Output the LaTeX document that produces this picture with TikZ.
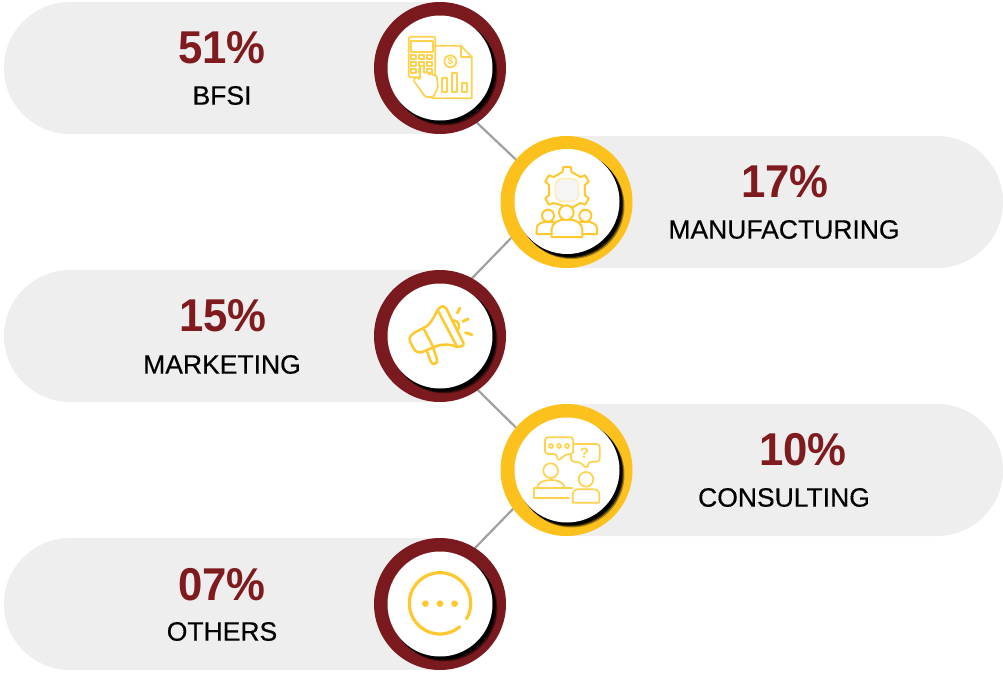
\documentclass[tikz,border=0pt]{standalone}
\usepackage{fontspec}
\setmainfont{Liberation Sans}
\newfontfamily\labfont[FakeBold=0.5]{Liberation Sans}
\definecolor{ringred}{HTML}{7B1A1E}
\definecolor{ringyel}{HTML}{FDC11E}
\definecolor{pillgray}{HTML}{EEEEEE}
\definecolor{pcttext}{HTML}{7F1A1F}
\definecolor{iconyel}{HTML}{FFD24D}
\definecolor{iconyelb}{HTML}{FFC82E}
\definecolor{linkgray}{HTML}{A0A0A0}
\tikzset{
  pill/.style={fill=pillgray,rounded corners=66pt},
  pct/.style={text=pcttext,font=\bfseries\fontsize{46}{46}\selectfont,inner sep=0pt,xscale=.95},
  lab/.style={text=black,font=\labfont\fontsize{26.5}{26.5}\selectfont,inner sep=0pt},
  link/.style={draw=linkgray,line width=2.2pt},
  ring/.style={circle,minimum size=132pt,inner sep=0pt,outer sep=0pt},
  hub/.style={circle,minimum size=105pt,inner sep=0pt,fill=white},
  ico/.style={draw=iconyel,line width=1.7pt,line join=round,line cap=round},
  icob/.style={draw=iconyelb,line width=2.8pt,line join=round,line cap=round},
}
\newcommand{\hubshadow}[2]{%
  \fill[black,opacity=.35] (#1+4.5,#2+4.5) circle (53);
  \fill[black,opacity=.6] (#1+3.5,#2+3.5) circle (53);
  \fill[black] (#1+2.5,#2+2.5) circle (53);
}
\begin{document}
\begin{tikzpicture}[x=1pt,y=-1pt]
\useasboundingbox (0,0) rectangle (1003,672);
% pills
\fill[pill] (4,2) rectangle (500,134);
\fill[pill] (505,136) rectangle (1003,268);
\fill[pill] (4,270) rectangle (500,402);
\fill[pill] (505,404) rectangle (1003,536);
\fill[pill] (4,538) rectangle (500,670);
% rings
\node[ring] (r1) at (440,68) {};
\node[ring] (r2) at (566.5,202) {};
\node[ring] (r3) at (440,336) {};
\node[ring] (r4) at (566.5,470) {};
\node[ring] (r5) at (440,604) {};
\draw[link] (r1.-56) -- (r2.140);
\draw[link] (r2.213) -- (r3.61);
\draw[link] (r3.-55) -- (r4.140);
\draw[link] (r4.216) -- (r5.58);
\fill[ringred] (r1) circle (66);
\fill[ringyel] (r2) circle (66);
\fill[ringred] (r3) circle (66);
\fill[ringyel] (r4) circle (66);
\fill[ringred] (r5) circle (66);
\hubshadow{440}{68}
\hubshadow{567}{201.5}
\hubshadow{440}{336}
\hubshadow{567}{470}
\hubshadow{440}{604}
\node[hub] (h1) at (440,68) {};
\node[hub] (h2) at (567,201.5) {};
\node[hub] (h3) at (440,336) {};
\node[hub] (h4) at (567,470) {};
\node[hub] (h5) at (440,604) {};
% texts
\node[pct] (p1) at (222,48) {51\%};
\node[lab] (l1) at (222,95.5) {BFSI};
\node[pct] (p2) at (785,182) {17\%};
\node[lab] (l2) at (784,229.5) {MANUFACTURING};
\node[pct] (p3) at (223,316) {15\%};
\node[lab] (l3) at (222,364.5) {MARKETING};
\node[pct] (p4) at (803,450) {10\%};
\node[lab] (l4) at (784,497.5) {CONSULTING};
\node[pct] (p5) at (222,585) {07\%};
\node[lab] (l5) at (222,631.5) {OTHERS};
% icon 1
\begin{scope}[shift={(370,0)},x=1/3*1pt,y=-1/3*1pt]
\draw[ico] (196,137) -- (272,137) -- (305,170) -- (305,295) -- (186,295);
\draw[ico] (272,137) -- (272,170) -- (305,170);
\draw[ico] (241,184) circle (18);
\node[text=iconyel,font=\bfseries\fontsize{10}{10}\selectfont,inner sep=0pt] at (241,184) {\$};
\draw[ico] (217,235) rectangle (232,277);
\draw[ico] (246,219) rectangle (262,277);
\draw[ico] (275,250) rectangle (291,277);
\draw[ico,fill=white,rounded corners=2pt] (116,110) rectangle (196,232);
\draw[ico] (124,122) rectangle (188,155);
\foreach \bx in {124,148,172} \foreach \by in {166,187,208}
  \draw[ico] (\bx,\by) rectangle (\bx+14,\by+12);
\draw[ico,fill=white,rounded corners=1.5pt] (130,240) -- (140,230) -- (150,240) -- (150,197) -- (162,197) -- (162,222) -- (172,212) -- (176,226) -- (186,218) -- (190,228) -- (200,226) -- (204,262) -- (190,291) -- (166,291) -- cycle;
\end{scope}
% icon 2
\begin{scope}[shift={(495,130)},x=1/3*1pt,y=-1/3*1pt]
\draw[icob,line width=2pt,shift={(216,180)}]
  (90-14:56)
  \foreach \a in {90,30,-30,-90,-150,-210} { -- (\a+14:56) -- (\a+9:70) -- (\a-9:70) -- (\a-14:56) } -- cycle;
\draw[draw=iconyel!40!white,fill=gray!8,line width=1.6pt,rounded corners=7pt] (181,146) rectangle (251,214);
\draw[icob,line width=2pt,fill=white] (125,312) -- (125,295) .. controls (125,282) and (140,275) .. (159,275) .. controls (178,275) and (193,282) .. (193,295) -- (193,312) -- cycle;
\draw[icob,line width=2pt,fill=white] (239,312) -- (239,295) .. controls (239,282) and (252,275) .. (271,275) .. controls (290,275) and (306,282) .. (306,295) -- (306,312) -- cycle;
\draw[icob,line width=2pt,fill=white] (159,257) circle (18);
\draw[icob,line width=2pt,fill=white] (271,257) circle (18);
\draw[icob,line width=2pt,fill=white] (170,321) -- (170,298) .. controls (170,280) and (190,268) .. (216,268) .. controls (242,268) and (262,280) .. (262,298) -- (262,321) -- cycle;
\draw[icob,line width=2pt,fill=white] (214,248) circle (22);
\end{scope}
% icon 3
\begin{scope}[shift={(370,268)},x=1/3*1pt,y=-1/3*1pt]
\draw[icob,line width=2.5pt,rounded corners=3pt] (203,126) .. controls (190,150) and (180,170) .. (160,180) -- (130,195) -- (116,212) -- (135,250) -- (150,255) -- (190,238) .. controls (215,228) and (240,228) .. (262,238) -- (284,232) -- (226,116) -- (212,114) -- (203,126);
\draw[icob,line width=2.5pt] (203,126) -- (262,238);
\draw[icob,line width=2.5pt] (160,180) -- (190,238);
\draw[icob,line width=2.5pt,rounded corners=3pt] (170,248) -- (186,290) -- (204,284) -- (190,240);
\draw[icob,line width=2.5pt] (252,157) .. controls (268,160) and (272,175) .. (262,188);
\draw[icob] (262,135) -- (270,120);
\draw[icob] (278,160) -- (295,153);
\draw[icob] (286,194) -- (306,200);
\end{scope}
% icon 4
\begin{scope}[shift={(495,400)},x=1/3*1pt,y=-1/3*1pt]
\draw[ico,rounded corners=3pt] (238,132) -- (314,132) -- (314,185) -- (281,185) -- (277,206) -- (252,185) -- (228,185) -- (228,165);
\draw[ico,fill=white,rounded corners=3pt] (150,112) -- (235,112) -- (235,162) -- (214,162) -- (188,184) -- (186,162) -- (150,162) -- cycle;
\foreach \dx in {168,192,216} \draw[ico] (\dx,138) circle (6);
\node[text=iconyel,font=\bfseries\fontsize{15}{15}\selectfont,inner sep=0pt] at (268,160) {?};
\draw[ico] (167,212) circle (22);
\draw[ico] (126,263) .. controls (128,248) and (145,240) .. (167,240) .. controls (190,240) and (207,248) .. (209,263);
\draw[ico] (232,264) -- (116,264) -- (116,295) -- (222,295);
\draw[ico] (273,238) circle (22);
\draw[ico] (233,308) -- (233,285) .. controls (233,274) and (240,268) .. (250,268) -- (296,268) .. controls (306,268) and (313,274) .. (313,285) -- (313,308) -- cycle;
\end{scope}
% icon 5
\begin{scope}[shift={(370,534)},x=1/3*1pt,y=-1/3*1pt]
\draw[icob,line width=3.2pt] (289.7,254) arc[start angle=30,end angle=-310,radius=92];
\foreach \dx in {166,210,254} \fill[iconyelb] (\dx,209) circle (10);
\end{scope}
\end{tikzpicture}
\end{document}
